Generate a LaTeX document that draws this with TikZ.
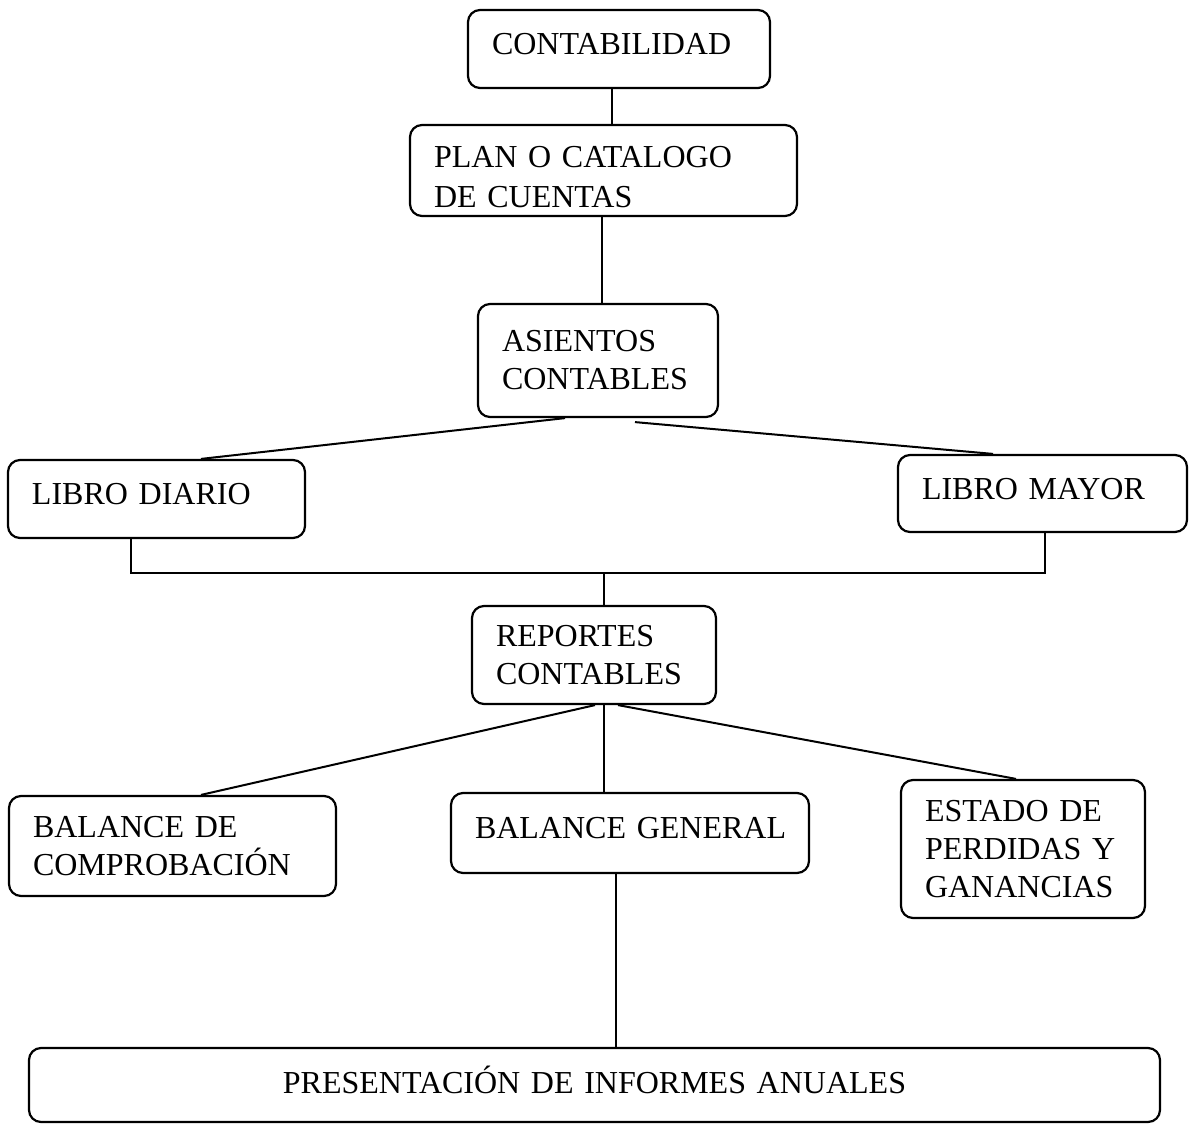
\documentclass[tikz,border=0pt]{standalone}
\usepackage{fontspec}
\setmainfont{Liberation Serif}
\begin{document}
\begin{tikzpicture}[x=0.5pt,y=-0.5pt,
  box/.style={draw, line width=1.1pt, rounded corners=6pt, inner xsep=12pt, inner ysep=0pt,
    align=left, font=\fontsize{16}{19}\selectfont},
  one/.style={text depth=5pt},
  conn/.style={line width=1pt}]
\useasboundingbox (0,0) rectangle (1189,1124);
% boxes
\node[box, one, text width=127pt, minimum height=39pt] (cont) at (619,49) {\mbox{CONTABILIDAD}};
\node[box, text width=169.5pt, minimum height=45.5pt, text height=17pt] (plan) at (603.5,170.5) {\mbox{PLAN O CATALOGO}\\[1pt]\mbox{DE CUENTAS}};
\node[box, text width=96pt, minimum height=56.5pt] (asie) at (598,360.5) {\mbox{ASIENTOS}\\\mbox{CONTABLES}};
\node[box, one, text width=124.5pt, minimum height=39pt] (diario) at (156.5,499) {\mbox{LIBRO DIARIO}};
\node[box, one, text width=120.5pt, minimum height=38.5pt] (mayor) at (1042.5,493.5) {\mbox{LIBRO MAYOR}};
\node[box, text width=98pt, minimum height=49pt] (rep) at (594,655) {\mbox{REPORTES}\\\mbox{CONTABLES}};
\node[box, text width=139.5pt, minimum height=50pt] (bcomp) at (172.5,846) {\mbox{BALANCE DE}\\\mbox{COMPROBACIÓN}};
\node[box, one, text width=155pt, minimum height=40pt] (bgen) at (630,833) {\mbox{BALANCE GENERAL}};
\node[box, text width=98pt, minimum height=69pt] (estado) at (1023,849) {\mbox{ESTADO DE}\\\mbox{PERDIDAS Y}\\\mbox{GANANCIAS}};
\node[box, one, align=center, text width=541.5pt, minimum height=37pt] (pres) at (594.5,1085) {PRESENTACIÓN DE INFORMES ANUALES};
% connectors
\draw[conn] ([xshift=-3.5pt]cont.south) -- ([xshift=-3.5pt]cont.south |- plan.north);
\draw[conn] ([xshift=-0.75pt]plan.south) -- ([xshift=-0.75pt]plan.south |- asie.north);
\draw[conn] ([xshift=-16.5pt]asie.south) -- ([xshift=22.25pt]diario.north);
\draw[conn] ([xshift=18.5pt,yshift=-2pt]asie.south) -- ([xshift=-24.75pt]mayor.north);
\coordinate (bar) at (0,573);
\coordinate (j) at (604,573);
\draw[conn] ([xshift=-12.75pt]diario.south) |- ([xshift=1.25pt]mayor.south |- bar) -- ([xshift=1.25pt]mayor.south);
\draw[conn] (j) -- (j |- rep.north);
\draw[conn] ([xshift=0.5pt]rep.south) -- ([xshift=14.25pt]bcomp.north);
\draw[conn] ([xshift=5pt]rep.south) -- ([xshift=5pt]rep.south |- bgen.north);
\draw[conn] ([xshift=12pt]rep.south) -- ([xshift=-3.5pt]estado.north);
\draw[conn] ([xshift=-7pt]bgen.south) -- ([xshift=-7pt]bgen.south |- pres.north);
\end{tikzpicture}
\end{document}
